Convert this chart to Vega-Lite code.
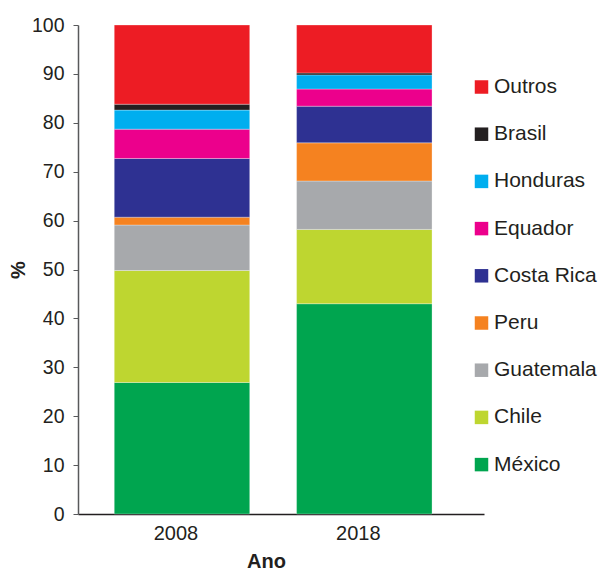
{
  "$schema": "https://vega.github.io/schema/vega-lite/v6.json",
  "autosize": "none",
  "width": 406,
  "height": 489,
  "padding": {"left": 78, "top": 25, "right": 115, "bottom": 57},
  "background": "white",
  "config": {
    "font": "Liberation Sans",
    "view": {"stroke": null},
    "axis": {"grid": false, "labelColor": "#231F20", "titleColor": "#231F20"}
  },
  "data": {
    "values": [
      {"ano": "2008", "pais": "México", "valor": 26.9, "ordem": 1},
      {"ano": "2008", "pais": "Chile", "valor": 22.9, "ordem": 2},
      {"ano": "2008", "pais": "Guatemala", "valor": 9.3, "ordem": 3},
      {"ano": "2008", "pais": "Peru", "valor": 1.6, "ordem": 4},
      {"ano": "2008", "pais": "Costa Rica", "valor": 12.0, "ordem": 5},
      {"ano": "2008", "pais": "Equador", "valor": 6.0, "ordem": 6},
      {"ano": "2008", "pais": "Honduras", "valor": 3.9, "ordem": 7},
      {"ano": "2008", "pais": "Brasil", "valor": 1.2, "ordem": 8},
      {"ano": "2008", "pais": "Outros", "valor": 16.2, "ordem": 9},
      {"ano": "2018", "pais": "México", "valor": 43.0, "ordem": 1},
      {"ano": "2018", "pais": "Chile", "valor": 15.2, "ordem": 2},
      {"ano": "2018", "pais": "Guatemala", "valor": 9.9, "ordem": 3},
      {"ano": "2018", "pais": "Peru", "valor": 7.8, "ordem": 4},
      {"ano": "2018", "pais": "Costa Rica", "valor": 7.5, "ordem": 5},
      {"ano": "2018", "pais": "Equador", "valor": 3.5, "ordem": 6},
      {"ano": "2018", "pais": "Honduras", "valor": 2.9, "ordem": 7},
      {"ano": "2018", "pais": "Brasil", "valor": 0.4, "ordem": 8},
      {"ano": "2018", "pais": "Outros", "valor": 9.8, "ordem": 9}
    ]
  },
  "mark": {"type": "bar", "stroke": "#ffffff", "strokeWidth": 0.6, "strokeOpacity": 0.5},
  "encoding": {
    "x": {
      "field": "ano",
      "type": "nominal",
      "scale": {"paddingInner": 0.257, "paddingOuter": 0.242, "align": 0.411},
      "axis": {
        "title": "Ano",
        "labelAngle": 0,
        "labelFontSize": 20,
        "labelPadding": 9,
        "labelOffset": -6,
        "ticks": false,
        "domainColor": "#231F20",
        "domainWidth": 1.5,
        "titleFontSize": 20,
        "titleFontWeight": "bold",
        "titlePadding": 8,
        "titleX": 188
      }
    },
    "y": {
      "field": "valor",
      "type": "quantitative",
      "stack": "zero",
      "scale": {"domain": [0, 100], "nice": false},
      "axis": {
        "title": "%",
        "values": [0, 10, 20, 30, 40, 50, 60, 70, 80, 90, 100],
        "labelFontSize": 19.5,
        "labelPadding": 9,
        "tickSize": 5,
        "tickColor": "#58595B",
        "domainColor": "#58595B",
        "domainWidth": 1.5,
        "titleFontSize": 20,
        "titleFontWeight": "bold",
        "titlePadding": 3
      }
    },
    "color": {
      "field": "pais",
      "type": "nominal",
      "scale": {
        "domain": ["Outros", "Brasil", "Honduras", "Equador", "Costa Rica", "Peru", "Guatemala", "Chile", "México"],
        "range": ["#ED1C24", "#231F20", "#00AEEF", "#EC008C", "#2E3192", "#F58220", "#A7A9AC", "#BED630", "#00A54F"]
      },
      "legend": {
        "title": null,
        "orient": "none",
        "legendX": 393,
        "legendY": 51.5,
        "symbolType": "square",
        "symbolSize": 182,
        "symbolStrokeWidth": 0,
        "labelFontSize": 21,
        "labelColor": "#231F20",
        "labelOffset": 2,
        "rowPadding": 25.2
      }
    },
    "order": {"field": "ordem", "type": "quantitative", "sort": "ascending"}
  }
}
